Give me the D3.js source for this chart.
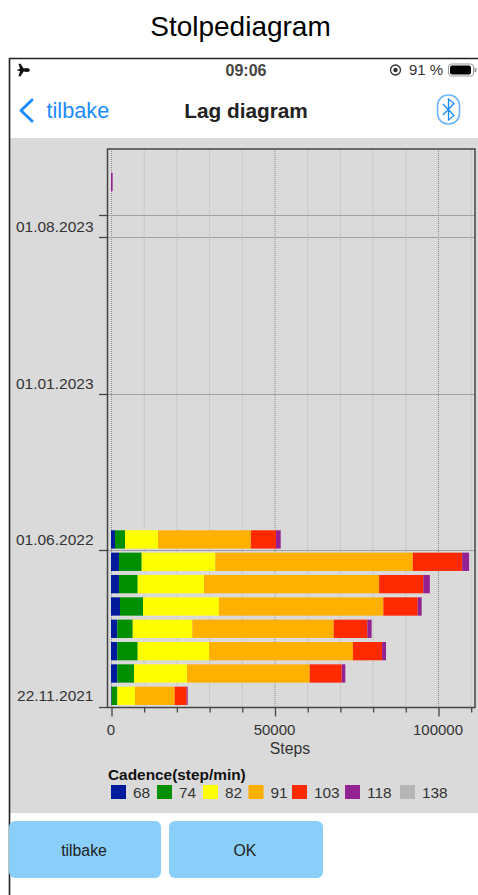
<!DOCTYPE html>
<html>
<head>
<meta charset="utf-8">
<script src="https://cdn.jsdelivr.net/npm/d3@7"></script>
<style>
html, body { margin: 0; padding: 0; background: #fff; overflow: hidden; }
text { font-family: "Liberation Sans", Arial, sans-serif; }
</style>
</head>
<body>
<script>
// one row per diagram slot, bottom to top. most slots are empty
let categories = ['22.11.2021', 'r1', 'r2', 'r3', 'r4', 'r5', 'r6', '01.06.2022',
                  'r8', 'r9', 'r10', 'r11', 'r12', 'r13', '01.01.2023',
                  'r15', 'r16', 'r17', 'r18', 'r19', 'r20', '01.08.2023',
                  'r22', 'r23', 'r24'];
let barRows = ['22.11.2021', 'r1', 'r2', 'r3', 'r4', 'r5', 'r6', '01.06.2022', 'r23'];
let tickRows = ['22.11.2021', '01.06.2022', '01.01.2023', '01.08.2023', 'r22'];
let tickLabels = ['22.11.2021', '01.06.2022', '01.01.2023', '01.08.2023', ''];

let cadence = ['68', '74', '82', '91', '103', '118', '138'];
let colors = ['#001a9c', '#008f00', '#ffff00', '#ffb000', '#ff2a00', '#942192', '#b5b5b5'];

let steps68 = [200, 1930, 1930, 1930, 2750, 2450, 2450, 1220, 0];
let steps74 = [1730, 5100, 6230, 4710, 7040, 5710, 6940, 3060, 0];
let steps82 = [5410, 16210, 21840, 18230, 23210, 20280, 22510, 10090, 0];
let steps91 = [12140, 37520, 44000, 43230, 50300, 53560, 60400, 28430, 0];
let steps103 = [3670, 9790, 8900, 10300, 10500, 13500, 15100, 7660, 0];
let steps118 = [300, 1100, 1200, 1300, 1200, 2000, 2100, 1440, 500];
let steps138 = [0, 0, 0, 0, 0, 0, 0, 0, 0];

let xMajor = [0, 50000, 100000];
let xMinor = [10000, 20000, 30000, 40000, 60000, 70000, 80000, 90000, 110000];

let width = 478;
let height = 895;
let blue = '#1a8cff';

let svg = d3.select('body').append('svg')
            .attr('width', width)
            .attr('height', height)
            .style('display', 'block');

// page title
svg.append('text').attr('x', 240.5).attr('y', 36)
   .attr('text-anchor', 'middle').attr('font-size', 28).attr('fill', '#000')
   .text('Stolpediagram');

// the grey chart area and the screenshot frame
svg.append('rect').attr('x', 9).attr('y', 138).attr('width', 469).attr('height', 675).attr('fill', '#dadada');
svg.append('path').attr('d', 'M9.5,895V58.5H478').attr('fill', 'none').attr('stroke', '#222').attr('stroke-width', 1.6);

// status bar
svg.append('path')
   .attr('d', 'M16.5,70 l3.5,-1.2 l-1.5,-5 h2 l3.2,4.6 l3.3,-0.5 q2.6,0.2 3,2.1 q-0.4,1.9 -3,2.1 l-3.3,-0.5 l-3.2,4.6 h-2 l1.5,-5 l-3.5,-1.2z')
   .attr('fill', '#111');
svg.append('text').attr('x', 246).attr('y', 75.5).attr('text-anchor', 'middle')
   .attr('font-size', 16).attr('font-weight', 'bold').attr('fill', '#444').text('09:06');
svg.append('circle').attr('cx', 395.5).attr('cy', 70).attr('r', 5).attr('fill', 'none').attr('stroke', '#333').attr('stroke-width', 1.3);
svg.append('circle').attr('cx', 395.5).attr('cy', 70).attr('r', 2.2).attr('fill', '#333');
svg.append('text').attr('x', 409).attr('y', 75).attr('font-size', 15).attr('fill', '#333').text('91 %');
svg.append('rect').attr('x', 448.5).attr('y', 64).attr('width', 25).attr('height', 12).attr('rx', 3)
   .attr('fill', 'none').attr('stroke', '#999');
svg.append('rect').attr('x', 450).attr('y', 65.5).attr('width', 21).attr('height', 9).attr('rx', 2).attr('fill', '#000');
svg.append('rect').attr('x', 474.5).attr('y', 68).attr('width', 2).attr('height', 4).attr('fill', '#999');

// nav bar
svg.append('path').attr('d', 'M32,100 L21,110.5 L32,121').attr('fill', 'none')
   .attr('stroke', blue).attr('stroke-width', 3).attr('stroke-linecap', 'round').attr('stroke-linejoin', 'round');
svg.append('text').attr('x', 46.5).attr('y', 118).attr('font-size', 21.7).attr('fill', blue).text('tilbake');
svg.append('text').attr('x', 246).attr('y', 118).attr('text-anchor', 'middle')
   .attr('font-size', 20.8).attr('font-weight', 'bold').attr('fill', '#222').text('Lag diagram');
svg.append('rect').attr('x', 437.5).attr('y', 95).attr('width', 22).attr('height', 29).attr('rx', 10.5)
   .attr('fill', 'none').attr('stroke', '#6db6ff').attr('stroke-width', 1.6);
svg.append('path').attr('d', 'M443,104 L454,115.5 L448.5,120 V99 L454,103.5 L443,115')
   .attr('fill', 'none').attr('stroke', blue).attr('stroke-width', 1.3);

// scales
let left = 107.5;
let right = 475;
let top_ = 149;
let bottom = 707.5;

let x = d3.scaleLinear().domain([0, 100000]).range([111, 438]);
let y = d3.scaleBand().domain(categories).range([707, 148.5]).paddingInner(0.18).paddingOuter(0.09);
let rowBottom = d => y(d) + y.bandwidth() + y.step() * 0.09;

// vertical dotted grid
svg.append('g').selectAll('line').data(xMajor.concat(xMinor)).enter().append('line')
   .attr('x1', d => x(d) + 0.5).attr('x2', d => x(d) + 0.5)
   .attr('y1', top_).attr('y2', bottom)
   .attr('stroke', d => d % 50000 == 0 ? '#8c8c8c' : '#b8b8b8')
   .attr('stroke-width', 1)
   .attr('stroke-dasharray', '1,1');

// horizontal grid at the labelled rows
svg.append('g').selectAll('line').data(tickRows.slice(1)).enter().append('line')
   .attr('x1', left).attr('x2', right)
   .attr('y1', d => Math.floor(rowBottom(d)) + 0.5).attr('y2', d => Math.floor(rowBottom(d)) + 0.5)
   .attr('stroke', '#a0a0a0').attr('stroke-width', 1);

// stacked bars
let table = barRows.map((row, i) => ({
  row: row,
  '68': steps68[i], '74': steps74[i], '82': steps82[i], '91': steps91[i],
  '103': steps103[i], '118': steps118[i], '138': steps138[i]
}));
let stacked = d3.stack().keys(cadence)(table);

svg.append('g').selectAll('g').data(stacked).enter().append('g')
   .attr('fill', (d, i) => colors[i])
   .selectAll('rect').data(d => d).enter().append('rect')
   .attr('x', d => x(d[0]))
   .attr('y', d => y(d.data.row))
   .attr('width', d => x(d[1]) - x(d[0]))
   .attr('height', y.bandwidth());

// plot border
svg.append('rect').attr('x', left).attr('y', top_).attr('width', right - left).attr('height', bottom - top_)
   .attr('fill', 'none').attr('stroke', '#444').attr('stroke-width', 1.5);

// x axis
let xAxis = svg.append('g').attr('transform', 'translate(0.5,' + bottom + ')');
xAxis.call(d3.axisBottom(x).tickValues(xMajor).tickSize(9).tickPadding(8).tickFormat(d3.format('d')));
xAxis.append('g').call(d3.axisBottom(x).tickValues(xMinor).tickSize(5).tickFormat(''));
xAxis.selectAll('path.domain').remove();
xAxis.selectAll('line').attr('stroke', '#444').attr('stroke-width', 1.3);
xAxis.selectAll('text').attr('font-size', 15).attr('fill', '#333').attr('dx', -1)
     .style('font-family', '"Liberation Sans", Arial, sans-serif');
svg.append('line').attr('x1', 99).attr('x2', 107).attr('y1', bottom).attr('y2', bottom).attr('stroke', '#444').attr('stroke-width', 1.3);

svg.append('text').attr('x', 290).attr('y', 753.5).attr('text-anchor', 'middle')
   .attr('font-size', 15.8).attr('fill', '#333').text('Steps');

// y ticks and labels
svg.append('g').selectAll('line').data(tickRows.slice(1)).enter().append('line')
   .attr('x1', 99).attr('x2', 107)
   .attr('y1', d => Math.floor(rowBottom(d)) + 0.5).attr('y2', d => Math.floor(rowBottom(d)) + 0.5)
   .attr('stroke', '#444').attr('stroke-width', 1.3);

svg.append('g').selectAll('text').data(tickRows).enter().append('text')
   .attr('x', 93.5)
   .attr('y', d => y(d) + y.bandwidth() / 2 + 5.5)
   .attr('text-anchor', 'end')
   .attr('font-size', 15.5)
   .attr('fill', '#333')
   .text((d, i) => tickLabels[i]);

// legend
let legendX = [111, 157, 203, 248.5, 292, 345, 400];
svg.append('text').attr('x', 108).attr('y', 780).attr('font-size', 15.4).attr('font-weight', 'bold')
   .attr('fill', '#111').text('Cadence(step/min)');
svg.append('g').selectAll('rect').data(cadence).enter().append('rect')
   .attr('x', (d, i) => legendX[i]).attr('y', 785)
   .attr('width', 15).attr('height', 14)
   .attr('fill', (d, i) => colors[i]);
svg.append('g').selectAll('text').data(cadence).enter().append('text')
   .attr('x', (d, i) => legendX[i] + 22).attr('y', 798)
   .attr('font-size', 15.4).attr('fill', '#333')
   .text(d => d);

// buttons
let buttons = [{label: 'tilbake', x: 9, w: 152}, {label: 'OK', x: 169, w: 154}];
svg.selectAll('.button').data(buttons).enter().append('rect')
   .attr('class', 'button')
   .attr('x', d => d.x).attr('y', 821).attr('width', d => d.w).attr('height', 57).attr('rx', 6)
   .attr('fill', '#89cff9');
svg.selectAll('.buttonlabel').data(buttons).enter().append('text')
   .attr('class', 'buttonlabel')
   .attr('x', d => d.x + d.w / 2 - 1).attr('y', 855.5)
   .attr('text-anchor', 'middle').attr('font-size', 15.8).attr('fill', '#222')
   .text(d => d.label);
</script>
</body>
</html>
